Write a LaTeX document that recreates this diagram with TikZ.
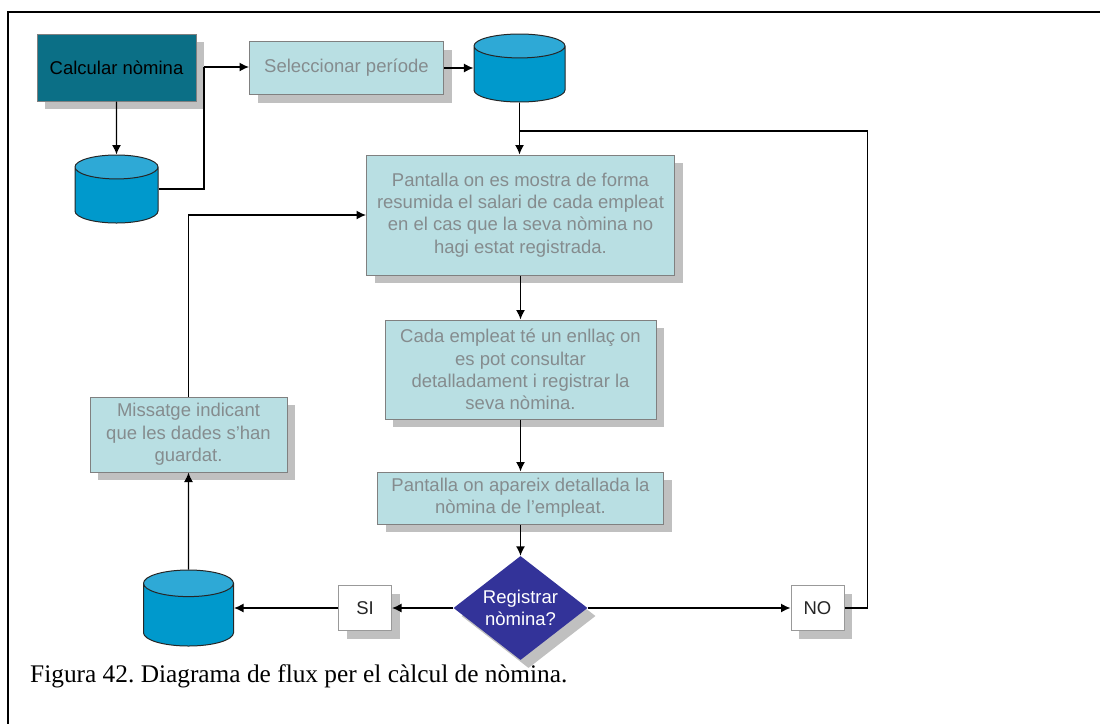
\documentclass[tikz,border=0pt]{standalone}
\usepackage{fontspec}
\setmainfont{Liberation Sans}
\newfontfamily\captionfont{Liberation Serif}
\usetikzlibrary{arrows.meta}
\usetikzlibrary{shadows}
\usetikzlibrary{shapes.geometric}
\definecolor{boxfill}{HTML}{B9DFE3}
\definecolor{boxtext}{HTML}{858C8E}
\definecolor{startfill}{HTML}{0B6F86}
\definecolor{dbbody}{HTML}{0099CC}
\definecolor{dbtop}{HTML}{2EA9D6}
\definecolor{askfill}{HTML}{333399}
\definecolor{shadowgray}{HTML}{C0C0C0}
\frenchspacing
\begin{document}
\begin{tikzpicture}[x=1pt, y=-1pt, >={Latex[length=9.5pt,width=9pt]}]
	\tikzstyle{every node}=[font=\fontsize{18.5}{22.3}\selectfont, align=center, inner sep=0pt]
	\tikzstyle{shadowed}=[drop shadow={shadow xshift=8pt, shadow yshift=-8pt, fill=shadowgray, opacity=1}]
	\tikzstyle{stepnode}=[draw=gray, line width=1pt, fill=boxfill, text=boxtext, shadowed]
	\tikzstyle{startnode}=[draw=gray, line width=1pt, fill=startfill, text=black, shadowed, minimum width=159pt, minimum height=67pt]
	\tikzstyle{answernode}=[draw=gray!80, line width=1pt, fill=white, text=black!85, shadowed, minimum width=53pt, minimum height=45pt]
	\tikzstyle{asknode}=[diamond, fill=askfill, text=white, shadowed, minimum width=134pt, minimum height=104pt, aspect=1.29]
	\tikzstyle{dbnode}=[cylinder, shape border rotate=90, anchor=shape center, draw=black!85, line width=1pt, inner sep=6.3pt, shape aspect=1.9, cylinder uses custom fill, cylinder body fill=dbbody, cylinder end fill=dbtop]
	\tikzstyle{link}=[line width=1.4pt, black]

	\useasboundingbox (0,0) rectangle (1100,724);
	\draw [line width=1.6pt] (1100,12) -- (8,12) -- (8,724);

	\node (start) at (116.5,67.5) [startnode] {Calcular nòmina};
	\node (period) at (346.5,68) [stepnode, minimum width=194pt, minimum height=53pt] {Seleccionar període};
	\node (dbperiod) at (519.5,68) [dbnode, minimum width=91pt, minimum height=68pt] {};
	\node (dbcalc) at (116.5,189) [dbnode, minimum width=83pt, minimum height=68pt] {};
	\node (summary) at (520.5,215) [stepnode, minimum width=308pt, minimum height=120pt] {Pantalla on es mostra de forma\\resumida el salari de cada empleat\\en el cas que la seva nòmina no\\hagi estat registrada.};
	\node (employee) at (520.5,369.5) [stepnode, minimum width=271pt, minimum height=99pt] {Cada empleat té un enllaç on\\es pot consultar\\detalladament i registrar la\\seva nòmina.};
	\node (detail) at (520.5,498) [stepnode, minimum width=286pt, minimum height=52pt] {Pantalla on apareix detallada la\\nòmina de l'empleat.};
	\node (saved) at (188.5,434.5) [stepnode, minimum width=197pt, minimum height=75pt] {Missatge indicant\\que les dades s'han\\guardat.};
	\node (ask) at (520.5,608) [asknode] {Registrar\\nòmina?};
	\node (si) at (365,608) [answernode] {SI};
	\node (no) at (817.5,608) [answernode] {NO};
	\node (dbsave) at (188.5,608) [dbnode, minimum width=90pt, minimum height=76pt, inner sep=7pt] {};
	\node (figcaption) at (30,676) [anchor=west, font=\captionfont\fontsize{25.35}{28}\selectfont] {Figura 42. Diagrama de flux per el càlcul de nòmina.};

	\coordinate (calcjoin) at (204,67);
	\coordinate (loopjoin) at (519.5,131);
	\coordinate (loopcorner) at (867.5,131);

	\draw [->, link] (start) -- (dbcalc.north);
	\draw [link] (dbcalc.east |- dbcalc.shape center) -| (calcjoin);
	\draw [->, link] (calcjoin) -- (period.west |- calcjoin);
	\draw [->, link] (period) -- (period -| dbperiod.west);
	\draw [->, link] (dbperiod.south) -- (summary.north -| dbperiod.south);
	\draw [->, link] (summary) -- (employee);
	\draw [->, link] (employee) -- (detail);
	\draw [->, link] (detail) -- (ask);
	\draw [->, link] (ask) -- (si);
	\draw [->, link] (si) -- (si -| dbsave.east);
	\draw [->, link] (ask) -- (no);
	\draw [link] (no) -| (loopcorner) -- (loopjoin);
	\draw [->, link] (dbsave.north) -- (saved);
	\draw [->, link] (saved) |- (summary);
\end{tikzpicture}
\end{document}
